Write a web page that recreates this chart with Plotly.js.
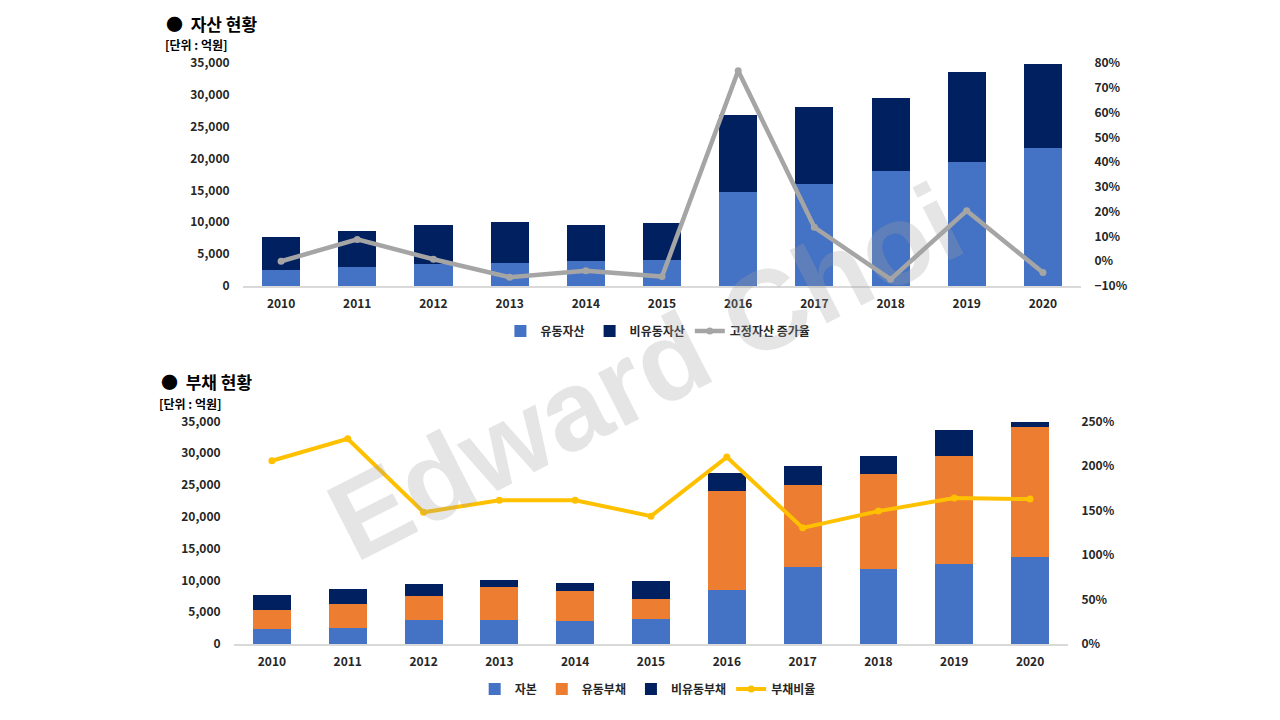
<!DOCTYPE html>
<html>
<head>
<meta charset="utf-8">
<script src="https://cdn.plot.ly/plotly-3.0.1.min.js"></script>
<style>
  html, body { margin: 0; padding: 0; background: #fff; }
  #chart { width: 1280px; height: 720px; }
</style>
</head>
<body>
<div id="chart"></div>
<script>
  // 연도
  var years = ["2010", "2011", "2012", "2013", "2014", "2015", "2016", "2017", "2018", "2019", "2020"];

  // 자산 현황 (억원)
  var currentAssets = [2510, 2980, 3500, 3610, 3920, 4080, 14760, 16010, 18050, 19470, 21660];
  var nonCurrentAssets = [5180, 5650, 6080, 6440, 5660, 5810, 12080, 12090, 11460, 14120, 13190];
  var fixedAssetGrowth = [0, 8.8, 0.8, -6.5, -3.8, -6.2, 76.9, 13.7, -7.3, 20.4, -4.6];

  // 부채 현황 (억원)
  var equity = [2360, 2570, 3780, 3780, 3620, 3940, 8500, 12130, 11810, 12600, 13700];
  var currentLiab = [2990, 3730, 3780, 5200, 4730, 3150, 15590, 12910, 14960, 17010, 20470];
  var nonCurrentLiab = [2370, 2360, 1890, 1100, 1260, 2830, 2840, 2990, 2840, 4090, 790];
  var debtRatio = [205.9, 230.6, 148, 161.6, 161.6, 143.6, 210, 130.5, 149.3, 164, 162.8];

  var FONT = "'Noto Sans CJK KR', 'Noto Sans', sans-serif";
  var tickFont = { family: FONT, size: 12, color: "#262626", weight: "bold" };

  var traces = [
    { type: "bar", name: "유동자산", x: years, y: currentAssets, xaxis: "x", yaxis: "y",
      marker: { color: "#4472c4" }, legend: "legend" },
    { type: "bar", name: "비유동자산", x: years, y: nonCurrentAssets, xaxis: "x", yaxis: "y",
      marker: { color: "#002060" }, legend: "legend" },
    { type: "scatter", mode: "lines+markers", name: "고정자산 증가율", x: years, y: fixedAssetGrowth,
      xaxis: "x", yaxis: "y2", line: { color: "#a5a5a5", width: 4.5 },
      marker: { color: "#a5a5a5", size: 7 }, legend: "legend" },

    { type: "bar", name: "자본", x: years, y: equity, xaxis: "x2", yaxis: "y3",
      marker: { color: "#4472c4" }, legend: "legend2" },
    { type: "bar", name: "유동부채", x: years, y: currentLiab, xaxis: "x2", yaxis: "y3",
      marker: { color: "#ed7d31" }, legend: "legend2" },
    { type: "bar", name: "비유동부채", x: years, y: nonCurrentLiab, xaxis: "x2", yaxis: "y3",
      marker: { color: "#002060" }, legend: "legend2" },
    { type: "scatter", mode: "lines+markers", name: "부채비율", x: years, y: debtRatio,
      xaxis: "x2", yaxis: "y4", line: { color: "#ffc000", width: 4 },
      marker: { color: "#ffc000", size: 7 }, legend: "legend2" }
  ];

  function xAxis(domain, anchor) {
    return {
      domain: domain, anchor: anchor, type: "category", range: [-0.5, years.length - 0.5],
      showline: true, linecolor: "#d9d9d9", linewidth: 1.5,
      showgrid: false, zeroline: false, ticks: "outside", ticklen: 6,
      tickcolor: "rgba(0,0,0,0)", tickfont: tickFont
    };
  }
  function leftAxis(domain, anchor) {
    return {
      domain: domain, anchor: anchor, range: [0, 35000], dtick: 5000,
      tickformat: ",", showgrid: false, zeroline: false, showline: false,
      ticks: "outside", ticklen: 10, tickcolor: "rgba(0,0,0,0)", tickfont: tickFont
    };
  }
  function rightAxis(overlay, anchor, range, dtick) {
    return {
      overlaying: overlay, anchor: anchor, side: "right", range: range, dtick: dtick,
      ticksuffix: "%", showgrid: false, zeroline: false, showline: false,
      ticks: "outside", ticklen: 10, tickcolor: "rgba(0,0,0,0)", tickfont: tickFont
    };
  }

  var legendFont = { family: FONT, size: 12, color: "#262626", weight: "bold" };

  var layout = {
    width: 1280, height: 720,
    margin: { l: 0, r: 0, t: 0, b: 0 },
    paper_bgcolor: "#fff", plot_bgcolor: "rgba(0,0,0,0)",
    barmode: "stack", bargap: 0.5,
    font: { family: FONT },
    xaxis: xAxis([243 / 1280, 1081 / 1280], "y"),
    yaxis: leftAxis([1 - 286 / 720, 1 - 63 / 720], "x"),
    yaxis2: rightAxis("y", "x", [-10, 80], 10),
    xaxis2: xAxis([234 / 1280, 1068 / 1280], "y3"),
    yaxis3: leftAxis([1 - 644 / 720, 1 - 421.5 / 720], "x2"),
    yaxis4: rightAxis("y3", "x2", [0, 250], 50),
    legend: {
      orientation: "h", x: 0.514, y: 1 - 331 / 720, xanchor: "center", yanchor: "middle",
      font: legendFont, itemwidth: 30, traceorder: "normal", bgcolor: "rgba(0,0,0,0)"
    },
    legend2: {
      orientation: "h", x: 0.506, y: 1 - 689 / 720, xanchor: "center", yanchor: "middle",
      font: legendFont, itemwidth: 30, traceorder: "normal", bgcolor: "rgba(0,0,0,0)"
    },
    annotations: [
      { text: "●  자산 현황", xref: "paper", yref: "paper", x: 164 / 1280, y: 1 - 23 / 720,
        xanchor: "left", yanchor: "middle", showarrow: false,
        font: { family: FONT, size: 17, color: "#000", weight: "bold" } },
      { text: "[단위 : 억원]", xref: "paper", yref: "paper", x: 163 / 1280, y: 1 - 44 / 720,
        xanchor: "left", yanchor: "middle", showarrow: false,
        font: { family: FONT, size: 12, color: "#000", weight: "bold" } },
      { text: "●  부채 현황", xref: "paper", yref: "paper", x: 159 / 1280, y: 1 - 381 / 720,
        xanchor: "left", yanchor: "middle", showarrow: false,
        font: { family: FONT, size: 17, color: "#000", weight: "bold" } },
      { text: "[단위 : 억원]", xref: "paper", yref: "paper", x: 157 / 1280, y: 1 - 403 / 720,
        xanchor: "left", yanchor: "middle", showarrow: false,
        font: { family: FONT, size: 12, color: "#000", weight: "bold" } },
      { text: "Edward Choi", xref: "paper", yref: "paper", x: 645 / 1280, y: 1 - 372 / 720,
        xanchor: "center", yanchor: "middle", showarrow: false, textangle: -27,
        font: { family: "'Liberation Sans', Arial, sans-serif", size: 113, color: "rgba(160,160,160,0.28)", weight: "bold" } }
    ]
  };

  Plotly.newPlot("chart", traces, layout, { displayModeBar: false, staticPlot: true });
</script>
</body>
</html>
